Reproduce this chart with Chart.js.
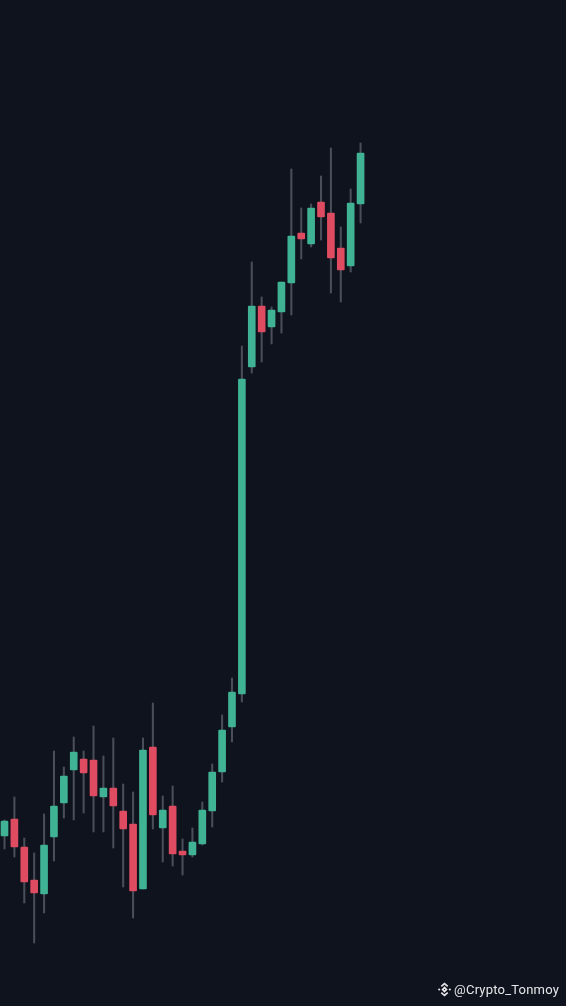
<!DOCTYPE html>
<html>
<head>
<meta charset="utf-8">
<title>Candles</title>
<script src="https://cdn.jsdelivr.net/npm/chart.js@4"></script>
<style>
  html, body { margin: 0; padding: 0; background: #0f131e; overflow: hidden; }
  #wrap { position: relative; width: 566px; height: 1006px; }
  canvas { display: block; }
  #mark {
    position: absolute; right: 7px; bottom: 9px; display: flex; align-items: center;
    font: 13px Roboto, sans-serif; color: #e6e7ea; letter-spacing: 0.2px;
  }
  #mark svg { margin-right: 2px; }
</style>
</head>
<body>
<div id="wrap">
  <canvas id="graph" width="566" height="1006"></canvas>
  <div id="mark">
    <svg width="15" height="15" viewBox="0 0 14 14" fill="none" stroke="#e6e7ea" stroke-width="1.6">
      <path d="M4 4 L7 1.5 L10 4"/><path d="M4 10 L7 12.5 L10 10"/>
      <path d="M5.2 7 L7 5.2 L8.8 7 L7 8.8 Z"/>
      <path d="M0.8 7 L2 5.8 L3.2 7 L2 8.2 Z" fill="#e6e7ea" stroke="none"/>
      <path d="M10.8 7 L12 5.8 L13.2 7 L12 8.2 Z" fill="#e6e7ea" stroke="none"/>
    </svg>
    <span>@Crypto_Tonmoy</span>
  </div>
</div>
<script>
const opens = [170, 187, 159, 126, 112, 169, 203, 236, 247, 246, 209, 218, 195, 182, 117, 259, 178, 200, 155, 151, 162, 195, 234, 279, 312, 639, 700, 679, 694, 723, 773, 762, 804, 793, 758, 740, 802];
const closes = [185, 159, 124, 113, 161, 200, 230, 254, 233, 210, 218, 200, 177, 115, 256, 191, 196, 152, 151, 164, 196, 234, 276, 314, 627, 700, 674, 696, 724, 770, 767, 798, 789, 748, 736, 803, 853];
const highs = [186, 209, 168, 153, 192, 255, 239, 269, 255, 280, 250, 268, 222, 214, 268, 303, 210, 220, 167, 178, 204, 242, 291, 328, 660, 744, 709, 699, 724, 837, 798, 802, 830, 858, 779, 817, 863];
const lows = [157, 149, 103, 63, 93, 145, 188, 186, 193, 174, 174, 158, 119, 88, 117, 177, 144, 140, 131, 149, 161, 179, 224, 264, 304, 633, 644, 662, 673, 691, 747, 759, 766, 713, 704, 734, 783];

const upColor = "#3fb393";
const downColor = "#df4b60";
const wickColor = "#4a4e59";

const bodies = opens.map((open, i) => ({ x: i, y: [open, closes[i]] }));
const wicks = lows.map((low, i) => ({ x: i, y: [low, highs[i]] }));

new Chart(document.getElementById("graph").getContext("2d"), {
  type: "bar",
  data: {
    datasets: [
      {
        label: "Body",
        data: bodies,
        barThickness: 7,
        borderRadius: 1,
        borderSkipped: false,
        backgroundColor: opens.map((open, i) => (closes[i] >= open ? upColor : downColor)),
        order: 1
      },
      {
        label: "Wick",
        data: wicks,
        barThickness: 1.4,
        backgroundColor: wickColor,
        order: 2
      }
    ]
  },
  options: {
    responsive: false,
    animation: false,
    layout: { padding: 0 },
    plugins: { legend: { display: false }, tooltip: { enabled: false } },
    datasets: { bar: { grouped: false } },
    scales: {
      x: { type: "linear", display: false, offset: false, min: -0.455, max: 56.77 },
      y: { display: false, min: 0, max: 1006 }
    }
  }
});
</script>
</body>
</html>
